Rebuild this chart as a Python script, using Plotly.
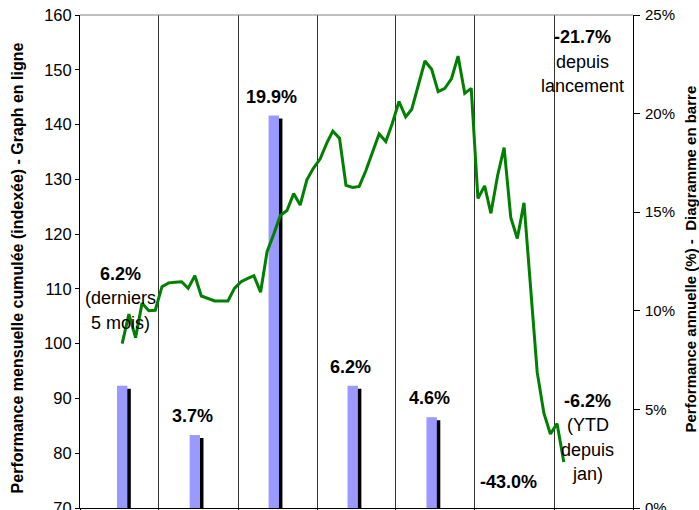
import plotly.graph_objects as go
import pandas as pd

# ---------------- data ----------------
years = ["2003", "2004", "2005", "2006", "2007", "2008", "2009"]
bar_dates = ["2003-07-15", "2004-06-15", "2005-06-15", "2006-06-15",
             "2007-06-15", "2008-06-15", "2009-06-15"]
annual_perf = [6.2, 3.7, 19.9, 6.2, 4.6, -43.0, -6.2]
bar_label_lines = [
    ["6.2%", "(derniers", "5 mois)"],
    ["3.7%"],
    ["19.9%"],
    ["6.2%"],
    ["4.6%"],
    ["-43.0%"],
    ["-6.2%", "(YTD", "depuis", "jan)"],
]

# monthly cumulative index (July 2003 -> February 2009)
line_start_month = "2003-07-01"
index_values = [
    100.0, 105.4, 101.1, 107.4, 106.0, 106.1,
    110.4, 111.1, 111.2, 111.3, 110.1, 112.4, 108.7, 108.2, 107.8, 107.8, 107.8, 110.1,
    111.3, 111.9, 112.4, 109.4, 116.8, 120.0, 123.4, 124.3, 127.4, 125.3, 129.9, 132.0,
    133.7, 136.6, 138.8, 137.5, 128.9, 128.5, 128.7, 131.6, 134.9, 138.3, 136.9, 140.2,
    144.2, 141.4, 142.8, 147.2, 151.6, 150.1, 146.0, 146.6, 148.4, 152.5, 145.7, 146.6,
    126.5, 128.8, 123.8, 130.7, 135.8, 123.0, 119.2, 125.7, 110.0, 94.8, 87.3, 83.5,
    85.4, 78.4,
]
since_launch_lines = ["-21.7%", "depuis", "lancement"]

left_ticks = [70, 80, 90, 100, 110, 120, 130, 140, 150, 160]
right_ticks = [0, 5, 10, 15, 20, 25]
left_title = "Performance mensuelle cumulée (indexée) - Graph en ligne"
right_title = "Performance annuelle (%) -  Diagramme en barre"

# ---------------- styling / layout constants ----------------
FONT = "Liberation Sans, Arial, Helvetica, sans-serif"
BAR_COLOR = "#9999FF"
LINE_COLOR = "#008000"
DAY_MS = 86400000
BAR_WIDTH_MS = 48 * DAY_MS
SHADOW_SHIFT_MS = 16 * DAY_MS
SHADOW_DROP = 0.15          # in % units (about 3 px)
LABEL_FONT = 18
LINE_STEP = 24.5            # px between label lines
LABEL_GAP = 19              # px above bar top
# manual label anchors (first line centre, in % on the bar axis)
label_y_override = {0: 11.87, 5: 1.32, 6: 5.43}
since_launch_anchor = ("2009-05-12", 23.87)

month_dates = pd.date_range(line_start_month, periods=len(index_values), freq="MS") + pd.Timedelta(days=14)

fig = go.Figure()

# shadow bars
fig.add_trace(go.Bar(
    x=bar_dates, y=[v - SHADOW_DROP if v > 0 else v for v in annual_perf],
    width=BAR_WIDTH_MS, offset=-BAR_WIDTH_MS / 2 + SHADOW_SHIFT_MS,
    marker=dict(color="black", line=dict(width=0)),
    yaxis="y", hoverinfo="skip",
))
# main bars
fig.add_trace(go.Bar(
    x=bar_dates, y=annual_perf, width=BAR_WIDTH_MS,
    marker=dict(color=BAR_COLOR, line=dict(width=0)),
    yaxis="y", name="Performance annuelle",
    customdata=years,
))
# cumulative line
fig.add_trace(go.Scatter(
    x=month_dates, y=index_values, mode="lines",
    line=dict(color=LINE_COLOR, width=3),
    yaxis="y2", name="Performance cumulée",
))

annotations = []
for i, lines in enumerate(bar_label_lines):
    if i in label_y_override:
        y0, base_shift = label_y_override[i], 0
    else:
        y0, base_shift = annual_perf[i], LABEL_GAP
    for k, txt in enumerate(lines):
        annotations.append(dict(
            x=bar_dates[i], y=y0, xref="x", yref="y",
            text=f"<b>{txt}</b>" if k == 0 else txt,
            showarrow=False, xanchor="center", yanchor="middle",
            xshift=-2, yshift=base_shift - k * LINE_STEP,
            font=dict(size=LABEL_FONT, color="black", family=FONT),
        ))
for k, txt in enumerate(since_launch_lines):
    annotations.append(dict(
        x=since_launch_anchor[0], y=since_launch_anchor[1], xref="x", yref="y",
        text=f"<b>{txt}</b>" if k == 0 else txt,
        showarrow=False, xanchor="center", yanchor="middle",
        yshift=-k * LINE_STEP,
        font=dict(size=LABEL_FONT, color="black", family=FONT),
    ))
# axis titles
annotations.append(dict(
    x=-0.1139, y=0.486, xref="paper", yref="paper", text=f"<b>{left_title}</b>",
    textangle=-90, showarrow=False, xanchor="center", yanchor="middle",
    font=dict(size=16, color="black", family=FONT),
))
annotations.append(dict(
    x=1.104, y=0.505, xref="paper", yref="paper", text=f"<b>{right_title}</b>",
    textangle=-90, showarrow=False, xanchor="center", yanchor="middle",
    font=dict(size=15, color="black", family=FONT),
))

fig.update_layout(
    width=699, height=510,
    margin=dict(l=80, r=66, t=15, b=2, autoexpand=False),
    plot_bgcolor="white", paper_bgcolor="white",
    barmode="overlay", showlegend=False,
    font=dict(family=FONT, color="black"),
    xaxis=dict(
        type="date", range=["2003-01-01", "2010-01-01"],
        tick0="2003-01-01", dtick="M12", showticklabels=False,
        ticks="outside", ticklen=5, tickcolor="black",
        showgrid=True, gridcolor="#333333", gridwidth=1,
        showline=True, linecolor="black", linewidth=1, zeroline=False,
    ),
    yaxis=dict(
        side="right", range=[0, 25], tickvals=right_ticks,
        ticktext=[f"{t}%" for t in right_ticks],
        ticks="outside", ticklen=6, tickcolor="black",
        showline=True, linecolor="black", linewidth=1,
        showgrid=False, zeroline=False,
        tickfont=dict(size=15, family=FONT, color="black"),
        ticklabelstandoff=2, ticklabeloverflow="allow",
    ),
    yaxis2=dict(
        overlaying="y", side="left", range=[70, 160], tickvals=left_ticks,
        ticks="outside", ticklen=4, tickcolor="black",
        showline=True, linecolor="black", linewidth=1,
        showgrid=False, zeroline=False,
        tickfont=dict(size=16.5, family=FONT, color="black"),
        ticklabeloverflow="allow",
    ),
    annotations=annotations,
    shapes=[dict(type="line", xref="paper", yref="paper", x0=0, x1=1, y0=1, y1=1,
                 line=dict(color="#808080", width=1))],
)

fig.write_html(
    "out.html",
    config={"displayModeBar": False},
    post_script="document.body.style.margin='0';document.body.style.overflow='hidden';",
)
